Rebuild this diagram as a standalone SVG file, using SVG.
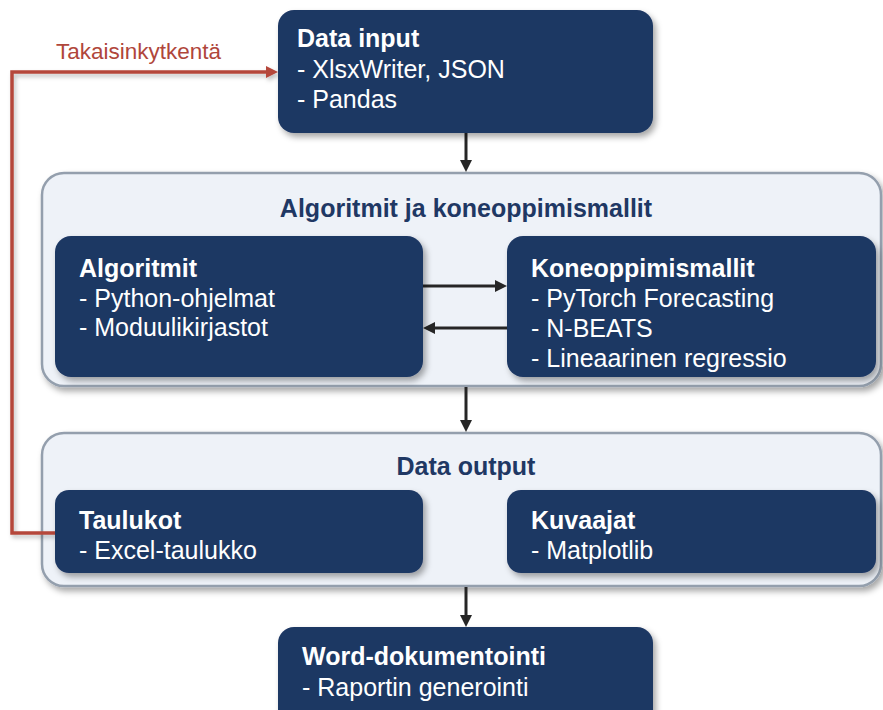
<svg xmlns="http://www.w3.org/2000/svg" width="883" height="710" viewBox="0 0 883 710">
  <style>
    .box { fill: #1f3864; }
    .group { fill: #eef2f8; stroke: #949fad; stroke-width: 2.5; }
    .t { font-family: "Liberation Sans", Arial, sans-serif; font-size: 25px; fill: #ffffff; }
    .b { font-weight: bold; }
    .gt { font-family: "Liberation Sans", Arial, sans-serif; font-size: 25px; font-weight: bold; fill: #1f3864; text-anchor: middle; }
    .lbl { font-family: "Liberation Sans", Arial, sans-serif; font-size: 22.5px; fill: #b0463b; }
    .arr { stroke: #262626; stroke-width: 3; fill: none; }
    .fb { stroke: #b5473b; stroke-width: 3.5; fill: none; }
  </style>
  <defs>
    <filter id="shadow" x="-10%" y="-10%" width="125%" height="130%">
      <feDropShadow dx="3" dy="4" stdDeviation="3" flood-color="#000" flood-opacity="0.35"/>
    </filter>
    <filter id="lineShadow" x="-10%" y="-10%" width="130%" height="130%">
      <feDropShadow dx="2" dy="3" stdDeviation="2" flood-color="#000" flood-opacity="0.25"/>
    </filter>
    <marker id="head" markerUnits="userSpaceOnUse" markerWidth="14" markerHeight="14" refX="1" refY="6" orient="auto">
      <path d="M0,0 L12,6 L0,12 z" fill="#262626"/>
    </marker>
    <marker id="headRed" markerUnits="userSpaceOnUse" markerWidth="14" markerHeight="14" refX="1" refY="6" orient="auto">
      <path d="M0,0 L12,6 L0,12 z" fill="#b5473b"/>
    </marker>
  </defs>

  <rect width="883" height="710" fill="#ffffff"/>

  <!-- container panels -->
  <g id="group-algorithms">
    <rect class="group" x="42" y="173" width="839" height="213" rx="22" filter="url(#shadow)"/>
    <text class="gt" x="466" y="217">Algoritmit ja koneoppimismallit</text>
  </g>
  <g id="group-output">
    <rect class="group" x="42" y="433" width="839" height="153" rx="22" filter="url(#shadow)"/>
    <text class="gt" x="466" y="475">Data output</text>
  </g>

  <!-- connectors -->
  <g id="connectors">
    <line class="arr" x1="466" y1="133" x2="466" y2="161" marker-end="url(#head)"/>
    <line class="arr" x1="466" y1="387" x2="466" y2="421" marker-end="url(#head)"/>
    <line class="arr" x1="466" y1="587" x2="466" y2="616" marker-end="url(#head)"/>
    <line class="arr" x1="423" y1="286" x2="496" y2="286" marker-end="url(#head)"/>
    <line class="arr" x1="507" y1="328" x2="434" y2="328" marker-end="url(#head)"/>
    <path class="fb" d="M55,533 H12 V72 H267" marker-end="url(#headRed)" filter="url(#lineShadow)"/>
    <text class="lbl" x="56" y="59">Takaisinkytkentä</text>
  </g>

  <!-- nodes -->
  <g id="data-input">
    <rect class="box" x="278" y="10" width="375" height="123" rx="16" filter="url(#shadow)"/>
    <text class="t b" x="297" y="47">Data input</text>
    <text class="t" x="297" y="78">- XlsxWriter, JSON</text>
    <text class="t" x="297" y="108">- Pandas</text>
  </g>

  <g id="algoritmit">
    <rect class="box" x="55" y="236" width="368" height="141" rx="16" filter="url(#shadow)"/>
    <text class="t b" x="79" y="277">Algoritmit</text>
    <text class="t" x="79" y="307">- Python-ohjelmat</text>
    <text class="t" x="79" y="336">- Moduulikirjastot</text>
  </g>

  <g id="koneoppimismallit">
    <rect class="box" x="507" y="236" width="369" height="141" rx="16" filter="url(#shadow)"/>
    <text class="t b" x="531" y="277">Koneoppimismallit</text>
    <text class="t" x="531" y="307">- PyTorch Forecasting</text>
    <text class="t" x="531" y="337">- N-BEATS</text>
    <text class="t" x="531" y="367">- Lineaarinen regressio</text>
  </g>

  <g id="taulukot">
    <rect class="box" x="55" y="490" width="368" height="83" rx="14" filter="url(#shadow)"/>
    <text class="t b" x="79" y="529">Taulukot</text>
    <text class="t" x="79" y="559">- Excel-taulukko</text>
  </g>

  <g id="kuvaajat">
    <rect class="box" x="507" y="490" width="369" height="83" rx="14" filter="url(#shadow)"/>
    <text class="t b" x="531" y="529">Kuvaajat</text>
    <text class="t" x="531" y="559">- Matplotlib</text>
  </g>

  <g id="word">
    <rect class="box" x="278" y="627" width="375" height="100" rx="16" filter="url(#shadow)"/>
    <text class="t b" x="302" y="665">Word-dokumentointi</text>
    <text class="t" x="302" y="696">- Raportin generointi</text>
  </g>
</svg>
